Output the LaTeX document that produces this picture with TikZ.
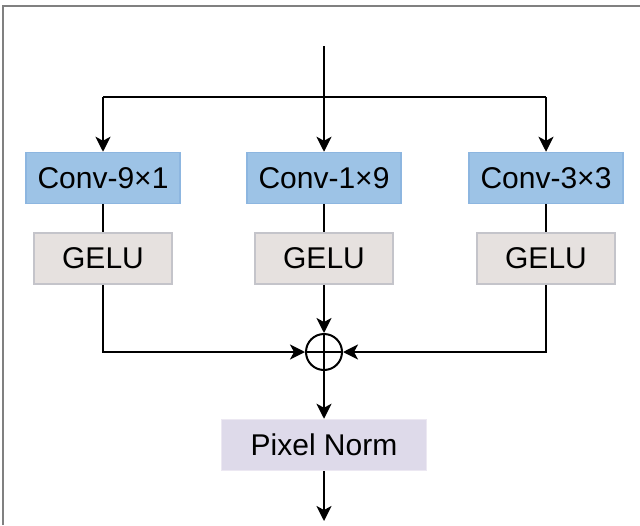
\documentclass[tikz,border=0pt]{standalone}
\usepackage{fontspec}
\setmainfont{Liberation Sans}
\usetikzlibrary{arrows.meta}
\definecolor{convfill}{HTML}{9DC3E6}
\definecolor{convline}{HTML}{8DB6E0}
\definecolor{actfill}{HTML}{E6E1DF}
\definecolor{actline}{HTML}{C4C4CA}
\definecolor{normfill}{HTML}{DEDAEA}
\definecolor{normline}{HTML}{ECE8F2}
\definecolor{framegray}{HTML}{808080}
\tikzset{
  box/.style={draw, line width=1.5pt, minimum height=51pt, inner sep=0pt,
    font=\fontsize{30}{34}\selectfont},
  convbox/.style={box, fill=convfill, draw=convline, minimum width=154pt},
  actbox/.style={box, fill=actfill, draw=actline, minimum width=138pt},
  normbox/.style={box, fill=normfill, draw=normline, minimum width=205pt},
  flow/.style={line width=2pt, -{Stealth[length=15pt,width=15pt,inset=4pt]}},
  wire/.style={line width=2pt},
}
\begin{document}
\begin{tikzpicture}[x=1pt,y=-1pt]
\useasboundingbox (0,0) rectangle (640,525);
% frame edges
\draw[framegray, line width=2pt] (3,525) -- (3,6) -- (640,6);

% branch boxes
\node[convbox] (c1) at (103,178) {Conv-9×1};
\node[convbox] (c2) at (324,178) {Conv-1×9};
\node[convbox] (c3) at (546,178) {Conv-3×3};
\node[actbox] (g1) at (103,258.5) {GELU};
\node[actbox] (g2) at (324,258.5) {GELU};
\node[actbox] (g3) at (546,258.5) {GELU};

% summation node
\node[draw, circle, line width=2pt, minimum size=36pt, inner sep=0pt] (sum) at (324,352) {};
\draw[line width=2pt] (sum.north) -- (sum.south) (sum.west) -- (sum.east);

\node[normbox] (pn) at (324,445) {Pixel Norm};

% input and split
\coordinate (in) at (324,46);
\coordinate (split) at (324,97);
\coordinate (out) at (324,521);
\draw[wire] (in) -- (split);
\draw[flow] (split) -- (c2.north);
\draw[flow] (c1.north |- split) -- (c1.north);
\draw[flow] (c3.north |- split) -- (c3.north);
\draw[wire] (c1.north |- split) -- (c3.north |- split);

% conv to activation
\draw[wire] (c1) -- (g1);
\draw[wire] (c2) -- (g2);
\draw[wire] (c3) -- (g3);

% merge
\draw[flow] (g1.south) |- (sum.west);
\draw[flow] (g2.south) -- (sum.north);
\draw[flow] (g3.south) |- (sum.east);

% output
\draw[flow] (sum.south) -- (pn.north);
\draw[flow] (pn.south) -- (out);
\end{tikzpicture}
\end{document}
